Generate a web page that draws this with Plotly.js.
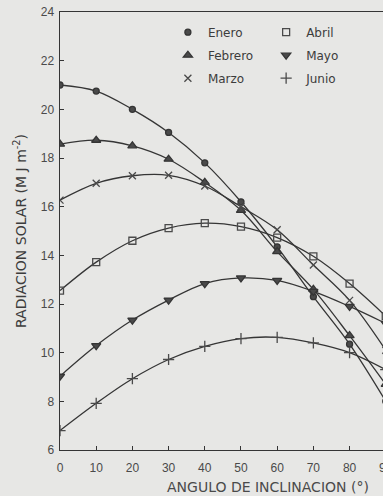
<!DOCTYPE html>
<html>
<head>
<meta charset="utf-8">
<script src="https://cdn.plot.ly/plotly-3.0.1.min.js"></script>
<style>
html,body{margin:0;padding:0;background:#e7e7e5;overflow:hidden;width:383px;height:496px;}
#chart{width:400px;height:496px;}
</style>
</head>
<body>
<div id="chart"></div>
<script>
var angles = [0, 10, 20, 30, 40, 50, 60, 70, 80, 90];
var enero   = [21.0, 20.75, 20.0, 19.05, 17.8, 16.2, 14.35, 12.3, 10.35, 8.0];
var febrero = [18.57, 18.73, 18.5, 17.95, 17.0, 15.85, 14.15, 12.6, 10.7, 8.7];
var marzo   = [16.27, 16.96, 17.27, 17.29, 16.85, 16.0, 15.05, 13.6, 12.15, 10.1];
var abril   = [12.55, 13.72, 14.6, 15.12, 15.32, 15.18, 14.73, 13.96, 12.84, 11.5];
var mayo    = [9.03, 10.29, 11.34, 12.16, 12.84, 13.07, 12.97, 12.52, 11.9, 11.2];
var junio   = [6.8, 7.92, 8.93, 9.72, 10.26, 10.58, 10.63, 10.4, 10.0, 9.3];

var xTicks = [0, 10, 20, 30, 40, 50, 60, 70, 80, 90];
var yTicks = [6, 8, 10, 12, 14, 16, 18, 20, 22, 24];

var series = [
  {name: 'Enero',   y: enero,   symbol: 'circle',            size: 6, legend: 'legend'},
  {name: 'Febrero', y: febrero, symbol: 'triangle-up',       size: 8, legend: 'legend'},
  {name: 'Marzo',   y: marzo,   symbol: 'x-thin-open',       size: 7, legend: 'legend'},
  {name: 'Abril',   y: abril,   symbol: 'square-open',       size: 7, legend: 'legend2'},
  {name: 'Mayo',    y: mayo,    symbol: 'triangle-down',     size: 8, legend: 'legend2'},
  {name: 'Junio',   y: junio,   symbol: 'cross-thin-open',   size: 8, legend: 'legend2'}
];

var ink = '#353535';
var traces = [];
series.forEach(function (s) {
  traces.push({
    x: angles, y: s.y, type: 'scatter', mode: 'lines',
    line: {color: ink, width: 1.3, shape: 'spline', smoothing: 1},
    showlegend: false, hoverinfo: 'skip'
  });
});
series.forEach(function (s) {
  traces.push({
    x: angles, y: s.y, type: 'scatter', mode: 'markers', name: s.name,
    legend: s.legend, legendgroup: s.name,
    marker: {symbol: s.symbol, size: s.size, color: '#4a4a4a',
             line: {color: ink, width: 1.3}}
  });
});

var tickFont = {family: 'Liberation Sans, Arial, sans-serif', size: 12, color: '#4a4a4a'};
var legFont = {family: 'DejaVu Sans, sans-serif', size: 12, color: '#3c3c3c'};

var layout = {
  width: 400, height: 496,
  margin: {l: 60, r: 7, t: 12, b: 46},
  paper_bgcolor: '#e7e7e5', plot_bgcolor: '#e7e7e5',
  showlegend: true,
  xaxis: {
    range: [0, 92], tickvals: xTicks, ticktext: xTicks.map(String),
    ticks: 'inside', ticklen: 4, tickcolor: ink, tickwidth: 1,
    showline: true, linecolor: ink, linewidth: 1.4, mirror: true,
    showgrid: false, zeroline: false, tickfont: tickFont, ticklabelstandoff: 6
  },
  yaxis: {
    range: [6, 24], tickvals: yTicks, ticktext: yTicks.map(String),
    ticks: 'inside', ticklen: 4, tickcolor: ink, tickwidth: 1,
    showline: true, linecolor: ink, linewidth: 1.4, mirror: true,
    showgrid: false, zeroline: false, tickfont: tickFont, ticklabelstandoff: 2
  },
  legend: {x: 0.324, y: 0.987, xanchor: 'left', yanchor: 'top', tracegroupgap: 4,
           bgcolor: 'rgba(0,0,0,0)', font: legFont, orientation: 'v'},
  legend2: {x: 0.619, y: 0.987, xanchor: 'left', yanchor: 'top', tracegroupgap: 4,
            bgcolor: 'rgba(0,0,0,0)', font: legFont, orientation: 'v'},
  annotations: [
    {text: 'RADIACION SOLAR (M J m<sup>-2</sup>)', textangle: -90,
     xref: 'paper', yref: 'paper', x: -0.12, y: 0.5, xanchor: 'center', yanchor: 'middle',
     showarrow: false, font: {family: 'DejaVu Sans, sans-serif', size: 14, color: '#3c3c3c'}},
    {text: 'ANGULO DE INCLINACION (°)',
     xref: 'paper', yref: 'paper', x: 0.315, y: -0.0845, xanchor: 'left', yanchor: 'middle',
     showarrow: false, font: {family: 'DejaVu Sans, sans-serif', size: 14, color: '#4a4a4a'}}
  ]
};

Plotly.newPlot('chart', traces, layout, {displayModeBar: false, staticPlot: true});
</script>
</body>
</html>
